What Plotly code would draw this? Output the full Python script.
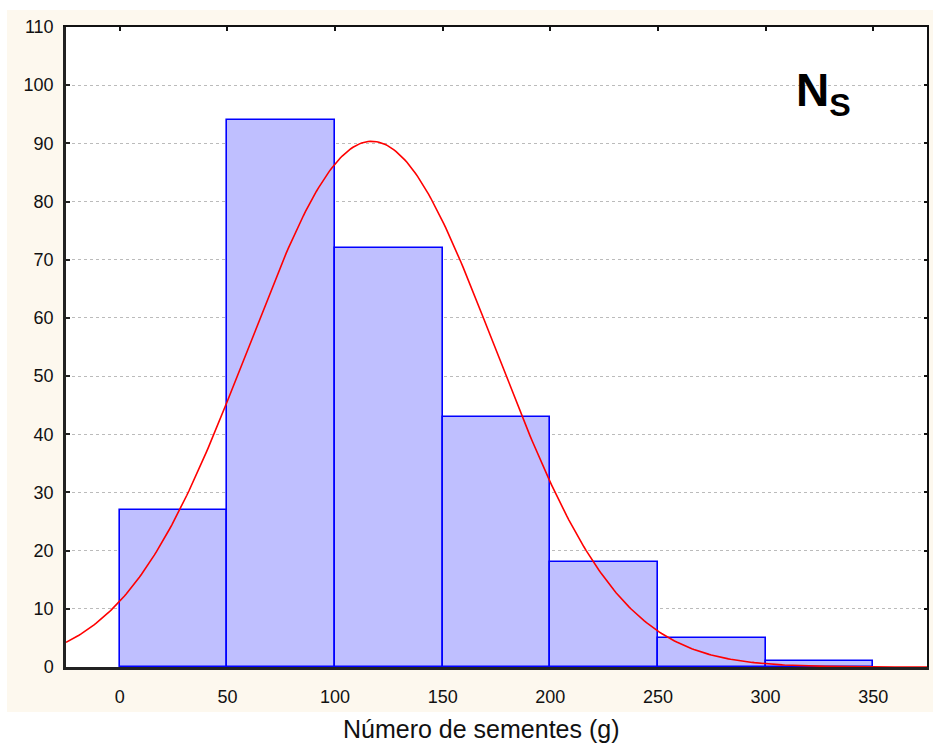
import numpy as np
import plotly.graph_objects as go

# ---- data ----
bin_left = [0, 50, 100, 150, 200, 250, 300]
bin_width = 50
counts = [27, 94, 72, 43, 18, 5, 1]
x_ticks = [0, 50, 100, 150, 200, 250, 300, 350]
y_ticks = [0, 10, 20, 30, 40, 50, 60, 70, 80, 90, 100, 110]
fit_mean = 117.0   # fitted normal curve parameters
fit_sd = 57.4
x_range = [-25, 375]
y_range = [0, 110]

centers = [b + bin_width / 2 for b in bin_left]
n_total = sum(counts)
xs = np.linspace(x_range[0], x_range[1], 400)
ys = n_total * bin_width / (fit_sd * np.sqrt(2 * np.pi)) * np.exp(-0.5 * ((xs - fit_mean) / fit_sd) ** 2)

FONT = "Liberation Sans, Arial, sans-serif"
W, H = 933, 747
ml, mr, mt, mb = 66, 6, 27, 80
pw, ph = W - ml - mr, H - mt - mb

fig = go.Figure()
fig.add_trace(go.Bar(x=centers, y=counts, width=bin_width,
                     marker=dict(color="#BFBFFF", line=dict(color="#0000FF", width=1.6)),
                     hoverinfo="skip", showlegend=False))
fig.add_trace(go.Scatter(x=xs, y=ys, mode="lines", line=dict(color="#FF0000", width=1.6),
                         hoverinfo="skip", showlegend=False, cliponaxis=True))
# invisible trace for mirrored axes
fig.add_trace(go.Scatter(x=[x_range[0]], y=[y_range[0]], xaxis="x2", yaxis="y2",
                         mode="markers", marker=dict(opacity=0), showlegend=False, hoverinfo="skip"))

def px_to_paper_x(px):
    return (px - ml) / pw

def px_to_paper_y(py):
    return (H - mb - py) / ph

shapes = [
    dict(type="rect", xref="paper", yref="paper", layer="below",
         x0=px_to_paper_x(7), x1=px_to_paper_x(933), y0=px_to_paper_y(712), y1=px_to_paper_y(10),
         fillcolor="#FDF8EE", line=dict(width=0)),
    dict(type="rect", xref="paper", yref="paper", layer="below",
         x0=0, x1=1, y0=0, y1=1, fillcolor="white", line=dict(width=0)),
]

fig.update_layout(
    width=W, height=H,
    margin=dict(l=ml, r=mr, t=mt, b=mb),
    paper_bgcolor="white", plot_bgcolor="white",
    font=dict(family=FONT, color="#111111", size=18),
    bargap=0,
    shapes=shapes,
    xaxis=dict(range=x_range, tickvals=x_ticks, ticks="", showgrid=False, zeroline=False,
               showline=True, linecolor="#222222", linewidth=2.5,
               tickfont=dict(size=18, family=FONT), ticklabelstandoff=12),
    yaxis=dict(range=y_range, tickvals=y_ticks, ticks="inside", ticklen=4, tickwidth=1.5,
               tickcolor="#222222", showgrid=True, gridcolor="#BBBBBB", griddash="dot",
               gridwidth=1, zeroline=False, showline=True, linecolor="#222222", linewidth=2.5,
               tickfont=dict(size=18, family=FONT), ticklabelstandoff=6),
    xaxis2=dict(range=x_range, overlaying="x", side="top", anchor="y2", tickvals=x_ticks,
                ticks="inside", ticklen=4, tickwidth=1.5, tickcolor="#111111",
                showticklabels=False, showgrid=False, zeroline=False,
                showline=True, linecolor="#111111", linewidth=1.5),
    yaxis2=dict(range=y_range, overlaying="y", side="right", anchor="x2", tickvals=y_ticks,
                ticks="inside", ticklen=3, tickwidth=1.5, tickcolor="#111111",
                showticklabels=False, showgrid=False, zeroline=False,
                showline=True, linecolor="#111111", linewidth=1.5),
    annotations=[
        dict(text="Número de sementes (g)", xref="paper", yref="paper",
             x=px_to_paper_x(481), y=px_to_paper_y(729), xanchor="center", yanchor="middle",
             showarrow=False, font=dict(size=25, family=FONT, color="#111111")),
        dict(text="<b>N<sub>S</sub></b>", xref="paper", yref="paper",
             x=px_to_paper_x(823), y=px_to_paper_y(93), xanchor="center", yanchor="middle",
             showarrow=False, font=dict(size=46, family=FONT, color="#000000")),
    ],
)

fig.write_html("out.html")
